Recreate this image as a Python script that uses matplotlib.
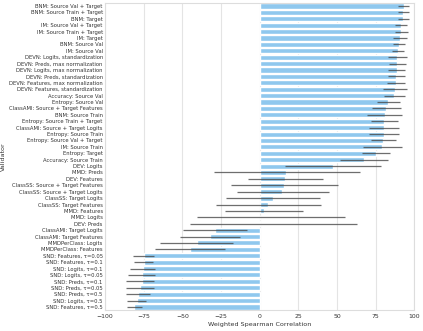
import matplotlib
matplotlib.use("Agg")
import matplotlib.pyplot as plt
import numpy as np
import seaborn as sns

validators = [
    "BNM: Source Val + Target", "BNM: Source Train + Target", "BNM: Target",
    "IM: Source Val + Target", "IM: Source Train + Target", "IM: Target",
    "BNM: Source Val", "IM: Source Val",
    "DEVN: Logits, standardization", "DEVN: Preds, max normalization",
    "DEVN: Logits, max normalization", "DEVN: Preds, standardization",
    "DEVN: Features, max normalization", "DEVN: Features, standardization",
    "Accuracy: Source Val", "Entropy: Source Val",
    "ClassAMI: Source + Target Features", "BNM: Source Train",
    "Entropy: Source Train + Target", "ClassAMI: Source + Target Logits",
    "Entropy: Source Train", "Entropy: Source Val + Target", "IM: Source Train",
    "Entropy: Target", "Accuracy: Source Train", "DEV: Logits", "MMD: Preds",
    "DEV: Features", "ClassSS: Source + Target Features",
    "ClassSS: Source + Target Logits", "ClassSS: Target Logits",
    "ClassSS: Target Features", "MMD: Features", "MMD: Logits", "DEV: Preds",
    "ClassAMI: Target Logits", "ClassAMI: Target Features",
    "MMDPerClass: Logits", "MMDPerClass: Features",
    "SND: Features, τ=0.05", "SND: Features, τ=0.1", "SND: Logits, τ=0.1",
    "SND: Logits, τ=0.05", "SND: Preds, τ=0.1", "SND: Preds, τ=0.05",
    "SND: Preds, τ=0.5", "SND: Logits, τ=0.5", "SND: Features, τ=0.5",
]

mean_corr = [
    93.3, 92.9, 92.5, 91.4, 91.4, 90.7, 90.1, 89.2,
    89.0, 88.6, 88.6, 88.1, 87.9, 87.5, 86.6, 83.2,
    81.6, 80.8, 80.6, 80.4, 80.2, 79.5, 78.9, 75.0,
    67.4, 47.1, 17.3, 16.5, 15.9, 14.7, 8.6, 5.4,
    2.6, 0.4, -0.3, -28.7, -32.0, -40.8, -44.7,
    -74.5, -75.0, -75.6, -75.8, -76.3, -77.0, -78.6, -79.5, -81.0,
]

ci_low = [
    89.6, 89.2, 89.2, 87.5, 87.5, 86.4, 86.2, 85.5,
    83.0, 83.4, 83.0, 83.0, 82.2, 79.7, 80.3, 75.6,
    72.6, 69.5, 71.9, 70.6, 70.6, 71.9, 66.8, 66.1,
    51.8, 16.2, -29.8, -7.6, -18.5, -14.7, -21.6, -28.5,
    -22.2, -40.2, -45.2, -49.7, -51.4, -64.2, -67.4,
    -81.7, -81.0, -84.0, -85.0, -86.2, -86.2, -86.4, -86.0, -86.0,
]

ci_high = [
    96.6, 96.6, 96.6, 95.5, 95.7, 95.3, 93.8, 93.1,
    95.0, 94.4, 94.0, 93.6, 94.2, 95.0, 93.6, 90.7,
    91.4, 91.8, 89.4, 90.3, 90.1, 87.9, 91.8, 84.5,
    83.0, 78.2, 65.0, 40.7, 50.5, 44.6, 38.9, 39.4,
    27.7, 55.0, 63.0, -8.4, -13.0, -17.5, -22.7,
    -68.0, -68.7, -67.8, -67.4, -68.0, -68.0, -71.1, -73.4, -76.0,
]

sns.set_theme(style="whitegrid")
plt.rcParams["font.family"] = ["DejaVu Sans"]

fig = plt.figure(figsize=(4.23, 3.31), dpi=100)
ax = fig.add_axes([0.248, 0.063, 0.7317, 0.9285])

y = np.arange(len(validators))
ax.barh(y, mean_corr, height=0.8, color="#8fc8ee", zorder=2)
for yi, lo, hi in zip(y, ci_low, ci_high):
    ax.plot([lo, hi], [yi, yi], color="#4a4a4a", lw=0.9, alpha=0.8,
            solid_capstyle="butt", zorder=3)

ax.set_yticks(y)
ax.set_yticklabels(validators)
ax.set_ylim(len(validators) - 0.5, -0.5)
ax.set_xlim(-100, 100)
ax.set_xticks([-100, -75, -50, -25, 0, 25, 50, 75, 100])
ax.tick_params(axis="y", labelsize=3.8, pad=1.5, length=0)
ax.tick_params(axis="x", labelsize=4.4, pad=3, length=0)
ax.grid(axis="y", visible=False)
ax.grid(axis="x", color="#e4e4e4", lw=0.8)
for s in ax.spines.values():
    s.set_color("#dddddd")
    s.set_linewidth(0.8)
ax.set_xlabel("Weighted Spearman Correlation", fontsize=4.6, labelpad=2, color="#333333")
ax.set_ylabel("Validator", fontsize=4.6, labelpad=2, color="#333333")
for t in ax.get_xticklabels() + ax.get_yticklabels():
    t.set_color("#333333")

fig.savefig("out.png", dpi=100)
